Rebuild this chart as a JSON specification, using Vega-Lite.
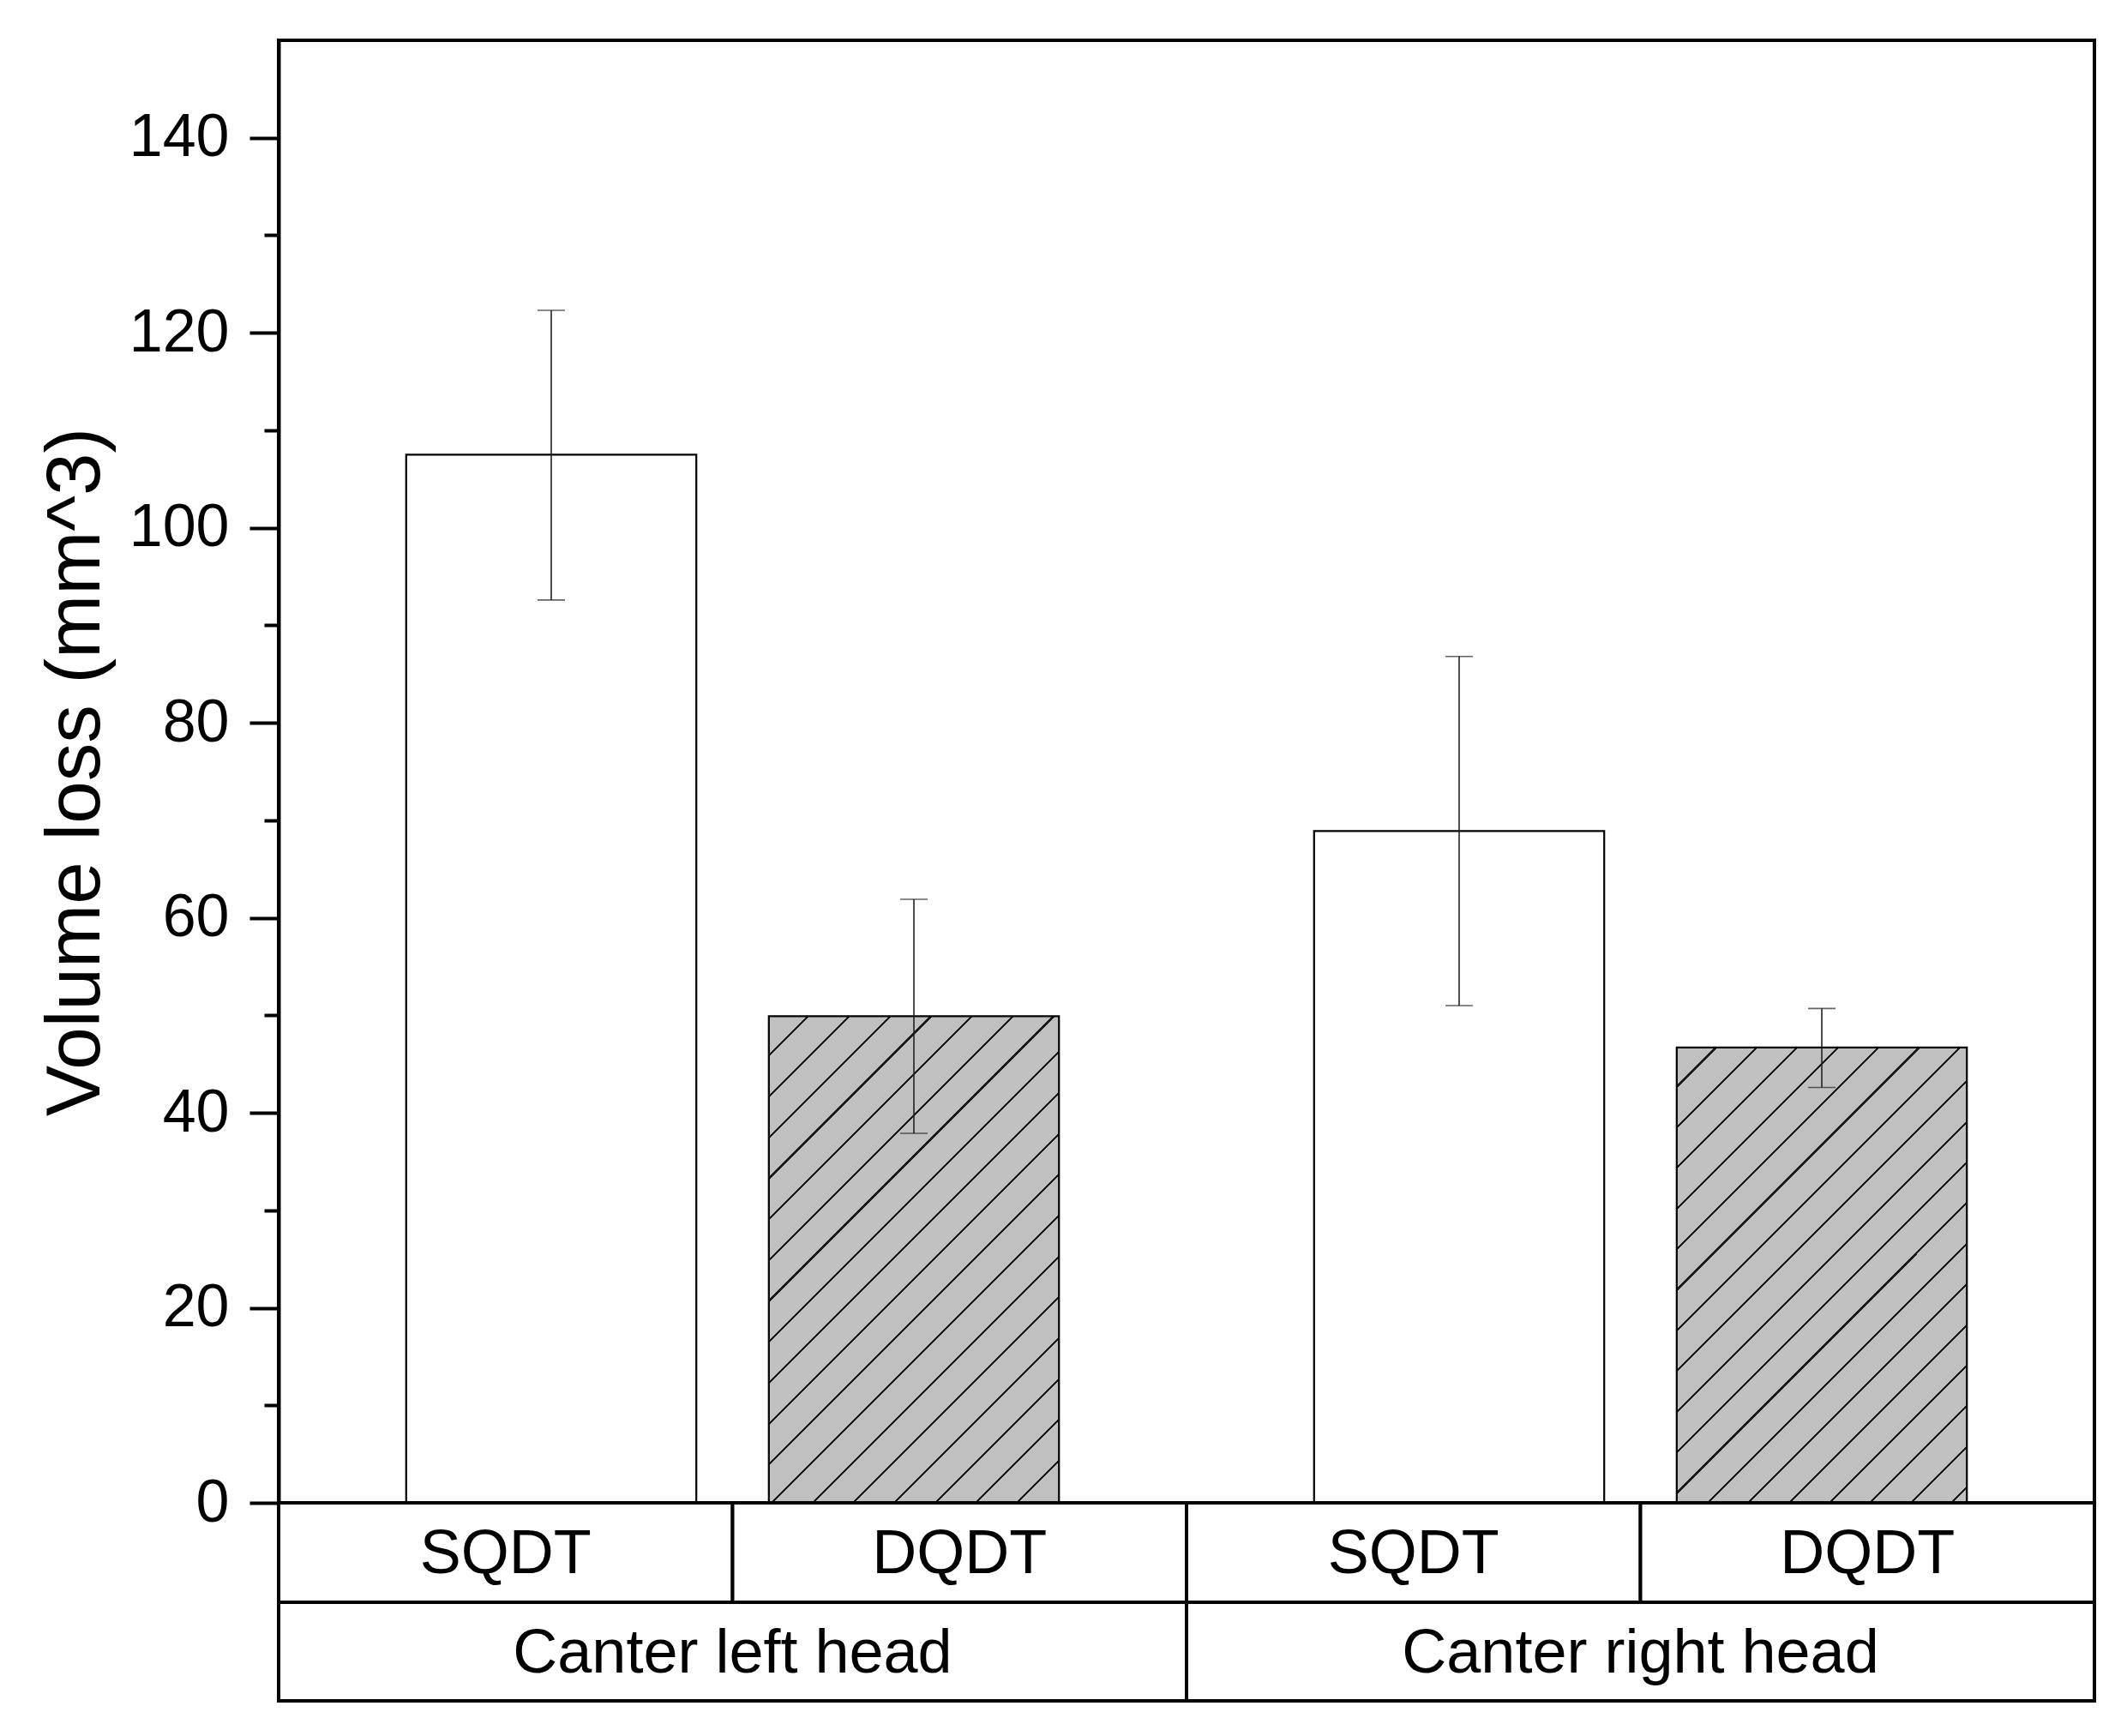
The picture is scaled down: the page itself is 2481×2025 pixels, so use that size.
{
  "$schema": "https://vega.github.io/schema/vega-lite/v6.json",
  "background": "white",
  "padding": {"left": 42, "top": 45, "right": 41, "bottom": 10},
  "spacing": 0,
  "bounds": "flush",
  "config": {
    "view": {"stroke": "black", "strokeWidth": 4},
    "font": "Liberation Sans"
  },
  "datasets": {
    "bars": [
      {"head": "Canter left head", "treatment": "SQDT", "volume": 107.5, "lower": 92.6, "upper": 122.3},
      {"head": "Canter left head", "treatment": "DQDT", "volume": 49.9, "lower": 37.9, "upper": 61.9},
      {"head": "Canter right head", "treatment": "SQDT", "volume": 68.9, "lower": 51.0, "upper": 86.8},
      {"head": "Canter right head", "treatment": "DQDT", "volume": 46.7, "lower": 42.6, "upper": 50.7}
    ],
    "heads": [
      {"head": "Canter left head"},
      {"head": "Canter right head"}
    ]
  },
  "vconcat": [
    {
      "width": 2118,
      "height": 1706,
      "data": {"name": "bars"},
      "encoding": {
        "x": {"field": "head", "type": "nominal", "scale": {"paddingInner": 0, "paddingOuter": 0}, "axis": null},
        "xOffset": {"field": "treatment", "type": "nominal", "scale": {"domain": ["SQDT", "DQDT"], "paddingInner": 0.2, "paddingOuter": 0.3517}}
      },
      "layer": [
        {
          "transform": [{"filter": "datum.treatment === 'SQDT'"}],
          "mark": {"type": "bar", "fill": "white", "stroke": "black", "strokeWidth": 2.2},
          "encoding": {
            "y": {
              "field": "volume", "type": "quantitative",
              "scale": {"domain": [0, 150], "nice": false},
              "axis": {
                "orient": "left", "values": [0, 20, 40, 60, 80, 100, 120, 140],
                "tickSize": 34, "tickWidth": 4, "tickColor": "black",
                "domainColor": "black", "domainWidth": 4,
                "labelFontSize": 70, "labelFont": "Liberation Sans", "labelColor": "black", "labelPadding": 24,
                "labelFlush": false, "labelOverlap": false, "grid": false,
                "title": "Volume loss (mm^3)", "titleFontSize": 89, "titleFont": "Liberation Sans",
                "titleFontWeight": "normal", "titleColor": "black", "titlePadding": 16
              }
            }
          }
        },
        {
          "transform": [{"filter": "datum.treatment === 'DQDT' && datum.head === 'Canter left head'"}],
          "mark": {
            "type": "bar", "stroke": "black", "strokeWidth": 2.2,
            "fill": {
              "gradient": "linear", "x1": 0, "y1": 0, "x2": 0.7022, "y2": 1.1776,
              "stops": [
                {"offset": 0, "color": "#c0c0c0"},
                {"offset": 0.049232, "color": "#c0c0c0"}, {"offset": 0.049232, "color": "#1a1a1a"}, {"offset": 0.052632, "color": "#1a1a1a"}, {"offset": 0.052632, "color": "#c0c0c0"},
                {"offset": 0.101863, "color": "#c0c0c0"}, {"offset": 0.101863, "color": "#1a1a1a"}, {"offset": 0.105263, "color": "#1a1a1a"}, {"offset": 0.105263, "color": "#c0c0c0"},
                {"offset": 0.154495, "color": "#c0c0c0"}, {"offset": 0.154495, "color": "#1a1a1a"}, {"offset": 0.157895, "color": "#1a1a1a"}, {"offset": 0.157895, "color": "#c0c0c0"},
                {"offset": 0.207126, "color": "#c0c0c0"}, {"offset": 0.207126, "color": "#1a1a1a"}, {"offset": 0.210526, "color": "#1a1a1a"}, {"offset": 0.210526, "color": "#c0c0c0"},
                {"offset": 0.259758, "color": "#c0c0c0"}, {"offset": 0.259758, "color": "#1a1a1a"}, {"offset": 0.263158, "color": "#1a1a1a"}, {"offset": 0.263158, "color": "#c0c0c0"},
                {"offset": 0.312389, "color": "#c0c0c0"}, {"offset": 0.312389, "color": "#1a1a1a"}, {"offset": 0.315789, "color": "#1a1a1a"}, {"offset": 0.315789, "color": "#c0c0c0"},
                {"offset": 0.365021, "color": "#c0c0c0"}, {"offset": 0.365021, "color": "#1a1a1a"}, {"offset": 0.368421, "color": "#1a1a1a"}, {"offset": 0.368421, "color": "#c0c0c0"},
                {"offset": 0.417653, "color": "#c0c0c0"}, {"offset": 0.417653, "color": "#1a1a1a"}, {"offset": 0.421053, "color": "#1a1a1a"}, {"offset": 0.421053, "color": "#c0c0c0"},
                {"offset": 0.470284, "color": "#c0c0c0"}, {"offset": 0.470284, "color": "#1a1a1a"}, {"offset": 0.473684, "color": "#1a1a1a"}, {"offset": 0.473684, "color": "#c0c0c0"},
                {"offset": 0.522916, "color": "#c0c0c0"}, {"offset": 0.522916, "color": "#1a1a1a"}, {"offset": 0.526316, "color": "#1a1a1a"}, {"offset": 0.526316, "color": "#c0c0c0"},
                {"offset": 0.575547, "color": "#c0c0c0"}, {"offset": 0.575547, "color": "#1a1a1a"}, {"offset": 0.578947, "color": "#1a1a1a"}, {"offset": 0.578947, "color": "#c0c0c0"},
                {"offset": 0.628179, "color": "#c0c0c0"}, {"offset": 0.628179, "color": "#1a1a1a"}, {"offset": 0.631579, "color": "#1a1a1a"}, {"offset": 0.631579, "color": "#c0c0c0"},
                {"offset": 0.680811, "color": "#c0c0c0"}, {"offset": 0.680811, "color": "#1a1a1a"}, {"offset": 0.684211, "color": "#1a1a1a"}, {"offset": 0.684211, "color": "#c0c0c0"},
                {"offset": 0.733442, "color": "#c0c0c0"}, {"offset": 0.733442, "color": "#1a1a1a"}, {"offset": 0.736842, "color": "#1a1a1a"}, {"offset": 0.736842, "color": "#c0c0c0"},
                {"offset": 0.786074, "color": "#c0c0c0"}, {"offset": 0.786074, "color": "#1a1a1a"}, {"offset": 0.789474, "color": "#1a1a1a"}, {"offset": 0.789474, "color": "#c0c0c0"},
                {"offset": 0.838705, "color": "#c0c0c0"}, {"offset": 0.838705, "color": "#1a1a1a"}, {"offset": 0.842105, "color": "#1a1a1a"}, {"offset": 0.842105, "color": "#c0c0c0"},
                {"offset": 0.891337, "color": "#c0c0c0"}, {"offset": 0.891337, "color": "#1a1a1a"}, {"offset": 0.894737, "color": "#1a1a1a"}, {"offset": 0.894737, "color": "#c0c0c0"},
                {"offset": 0.943968, "color": "#c0c0c0"}, {"offset": 0.943968, "color": "#1a1a1a"}, {"offset": 0.947368, "color": "#1a1a1a"}, {"offset": 0.947368, "color": "#c0c0c0"},
                {"offset": 0.9966, "color": "#c0c0c0"}, {"offset": 0.9966, "color": "#1a1a1a"}, {"offset": 1, "color": "#1a1a1a"}
              ]
            }
          },
          "encoding": {
            "y": {"field": "volume", "type": "quantitative", "scale": {"domain": [0, 150], "nice": false}, "axis": null}
          }
        },
        {
          "transform": [{"filter": "datum.treatment === 'DQDT' && datum.head === 'Canter right head'"}],
          "mark": {
            "type": "bar", "stroke": "black", "strokeWidth": 2.2,
            "fill": {
              "gradient": "linear", "x1": 0, "y1": 0, "x2": 0.7421, "y2": 1.1645,
              "stops": [
                {"offset": 0, "color": "#c0c0c0"},
                {"offset": 0.0509, "color": "#c0c0c0"}, {"offset": 0.0509, "color": "#1a1a1a"}, {"offset": 0.0545, "color": "#1a1a1a"}, {"offset": 0.0545, "color": "#c0c0c0"},
                {"offset": 0.1054, "color": "#c0c0c0"}, {"offset": 0.1054, "color": "#1a1a1a"}, {"offset": 0.109, "color": "#1a1a1a"}, {"offset": 0.109, "color": "#c0c0c0"},
                {"offset": 0.1599, "color": "#c0c0c0"}, {"offset": 0.1599, "color": "#1a1a1a"}, {"offset": 0.1635, "color": "#1a1a1a"}, {"offset": 0.1635, "color": "#c0c0c0"},
                {"offset": 0.2144, "color": "#c0c0c0"}, {"offset": 0.2144, "color": "#1a1a1a"}, {"offset": 0.218, "color": "#1a1a1a"}, {"offset": 0.218, "color": "#c0c0c0"},
                {"offset": 0.2689, "color": "#c0c0c0"}, {"offset": 0.2689, "color": "#1a1a1a"}, {"offset": 0.2725, "color": "#1a1a1a"}, {"offset": 0.2725, "color": "#c0c0c0"},
                {"offset": 0.3234, "color": "#c0c0c0"}, {"offset": 0.3234, "color": "#1a1a1a"}, {"offset": 0.327, "color": "#1a1a1a"}, {"offset": 0.327, "color": "#c0c0c0"},
                {"offset": 0.3779, "color": "#c0c0c0"}, {"offset": 0.3779, "color": "#1a1a1a"}, {"offset": 0.3815, "color": "#1a1a1a"}, {"offset": 0.3815, "color": "#c0c0c0"},
                {"offset": 0.4324, "color": "#c0c0c0"}, {"offset": 0.4324, "color": "#1a1a1a"}, {"offset": 0.436, "color": "#1a1a1a"}, {"offset": 0.436, "color": "#c0c0c0"},
                {"offset": 0.4869, "color": "#c0c0c0"}, {"offset": 0.4869, "color": "#1a1a1a"}, {"offset": 0.4905, "color": "#1a1a1a"}, {"offset": 0.4905, "color": "#c0c0c0"},
                {"offset": 0.5414, "color": "#c0c0c0"}, {"offset": 0.5414, "color": "#1a1a1a"}, {"offset": 0.545, "color": "#1a1a1a"}, {"offset": 0.545, "color": "#c0c0c0"},
                {"offset": 0.5959, "color": "#c0c0c0"}, {"offset": 0.5959, "color": "#1a1a1a"}, {"offset": 0.5995, "color": "#1a1a1a"}, {"offset": 0.5995, "color": "#c0c0c0"},
                {"offset": 0.6504, "color": "#c0c0c0"}, {"offset": 0.6504, "color": "#1a1a1a"}, {"offset": 0.654, "color": "#1a1a1a"}, {"offset": 0.654, "color": "#c0c0c0"},
                {"offset": 0.7049, "color": "#c0c0c0"}, {"offset": 0.7049, "color": "#1a1a1a"}, {"offset": 0.7085, "color": "#1a1a1a"}, {"offset": 0.7085, "color": "#c0c0c0"},
                {"offset": 0.7594, "color": "#c0c0c0"}, {"offset": 0.7594, "color": "#1a1a1a"}, {"offset": 0.763, "color": "#1a1a1a"}, {"offset": 0.763, "color": "#c0c0c0"},
                {"offset": 0.8139, "color": "#c0c0c0"}, {"offset": 0.8139, "color": "#1a1a1a"}, {"offset": 0.8175, "color": "#1a1a1a"}, {"offset": 0.8175, "color": "#c0c0c0"},
                {"offset": 0.8684, "color": "#c0c0c0"}, {"offset": 0.8684, "color": "#1a1a1a"}, {"offset": 0.872, "color": "#1a1a1a"}, {"offset": 0.872, "color": "#c0c0c0"},
                {"offset": 0.9229, "color": "#c0c0c0"}, {"offset": 0.9229, "color": "#1a1a1a"}, {"offset": 0.9265, "color": "#1a1a1a"}, {"offset": 0.9265, "color": "#c0c0c0"},
                {"offset": 0.9774, "color": "#c0c0c0"}, {"offset": 0.9774, "color": "#1a1a1a"}, {"offset": 0.981, "color": "#1a1a1a"}, {"offset": 0.981, "color": "#c0c0c0"},
                {"offset": 1, "color": "#c0c0c0"}
              ]
            }
          },
          "encoding": {
            "y": {"field": "volume", "type": "quantitative", "scale": {"domain": [0, 150], "nice": false}, "axis": null}
          }
        },
        {
          "mark": {"type": "rule", "color": "#222222", "strokeWidth": 1.6},
          "encoding": {
            "y": {
              "field": "lower", "type": "quantitative", "scale": {"domain": [0, 150], "nice": false},
              "axis": {
                "orient": "left", "values": [10, 30, 50, 70, 90, 110, 130],
                "tickSize": 17, "tickWidth": 4, "tickColor": "black",
                "labels": false, "domain": false, "grid": false, "title": null
              }
            },
            "y2": {"field": "upper"}
          }
        },
        {
          "mark": {"type": "tick", "color": "#222222", "thickness": 1.6, "size": 32},
          "encoding": {
            "y": {"field": "upper", "type": "quantitative", "scale": {"domain": [0, 150], "nice": false}, "axis": null}
          }
        },
        {
          "mark": {"type": "tick", "color": "#222222", "thickness": 1.6, "size": 32},
          "encoding": {
            "y": {"field": "lower", "type": "quantitative", "scale": {"domain": [0, 150], "nice": false}, "axis": null}
          }
        }
      ],
      "resolve": {"axis": {"y": "independent"}}
    },
    {
      "width": 2118,
      "height": 116,
      "data": {"name": "bars"},
      "view": {"stroke": null},
      "transform": [{"calculate": "datum.head + ' | ' + datum.treatment", "as": "cell"}],
      "encoding": {
        "x": {"field": "cell", "type": "nominal", "sort": null, "scale": {"paddingInner": 0, "paddingOuter": 0}, "axis": null}
      },
      "layer": [
        {"mark": {"type": "bar", "fill": "white", "stroke": "black", "strokeWidth": 4}},
        {
          "mark": {"type": "text", "fontSize": 72, "font": "Liberation Sans", "color": "black", "baseline": "middle", "align": "center", "dy": 2},
          "encoding": {"text": {"field": "treatment"}}
        }
      ]
    },
    {
      "width": 2118,
      "height": 115,
      "data": {"name": "heads"},
      "view": {"stroke": null},
      "encoding": {
        "x": {"field": "head", "type": "nominal", "scale": {"paddingInner": 0, "paddingOuter": 0}, "axis": null}
      },
      "layer": [
        {"mark": {"type": "bar", "fill": "white", "stroke": "black", "strokeWidth": 4}},
        {
          "mark": {"type": "text", "fontSize": 72, "font": "Liberation Sans", "color": "black", "baseline": "middle", "align": "center", "dy": 2},
          "encoding": {"text": {"field": "head"}}
        }
      ]
    }
  ]
}
